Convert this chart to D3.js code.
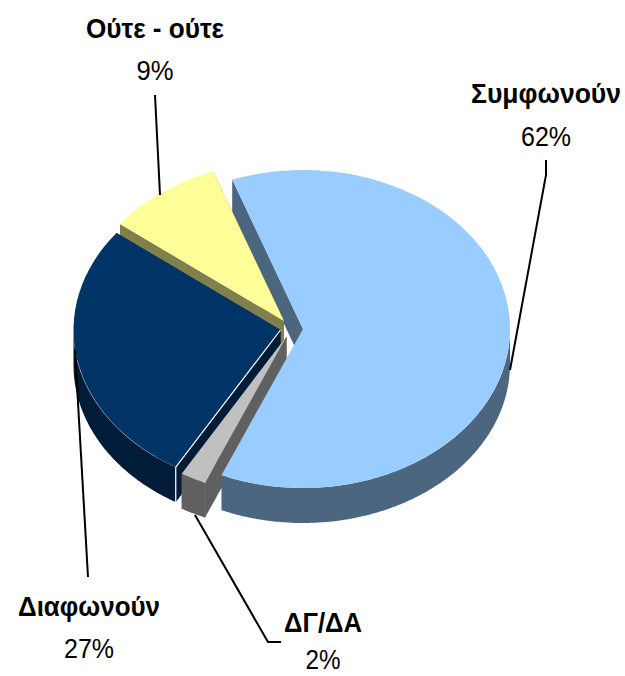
<!DOCTYPE html>
<html>
<head>
<meta charset="utf-8">
<script src="https://cdnjs.cloudflare.com/ajax/libs/d3/7.8.5/d3.min.js"></script>
<style>
  html, body { margin: 0; padding: 0; background: #fff; }
  svg { display: block; }
  text { font-family: "Liberation Sans", sans-serif; fill: #000; text-anchor: middle; }
  .name { font-size: 27px; font-weight: 700; }
  .pct { font-size: 28px; }
</style>
</head>
<body>
<div id="chart"></div>
<script>
const categories = ["Συμφωνούν", "ΔΓ/ΔΑ", "Διαφωνούν", "Ούτε - ούτε"];
const values = [62, 2, 27, 9];
const topColors = ["#99ccff", "#c0c0c0", "#003366", "#ffff99"];
const wallColors = ["#4d6680", "#606060", "#001c38", "#80804d"];

// layout, kept apart from the data
const width = 625, height = 676;
const rx = 207, ry = 159, depth = 35;
const sliceCenters = [[303, 329], [286.5, 336.5], [280.5, 330], [284, 321]];
const labelPos = [[546, 103, 146], [323, 632, 669], [89, 616, 658], [155, 38, 80]];
const nameWidths = [150, 78, 142, 138];
const pctWidths = [50, 35, 50, 37];
const leaders = [
  [[546, 160], [546, 175], [510, 370]],
  [[195, 515], [268, 642], [281, 642]],
  [[75, 350], [88, 577]],
  [[155, 95], [160, 195]]
];

const svg = d3.select("#chart").append("svg")
  .attr("width", width)
  .attr("height", height);

const startAngle = -20 * Math.PI / 180;
const pie = d3.pie().sort(null)
  .startAngle(startAngle)
  .endAngle(startAngle + 2 * Math.PI);
const slices = pie(values);

const arc = d3.arc().innerRadius(0).outerRadius(rx);
const line = d3.line();

const point = (a) => [rx * Math.sin(a), -ry * Math.cos(a)];

function rimPoints(i, a0, a1) {
  const c = sliceCenters[i];
  return d3.range(a0, a1, 0.01).concat([a1]).map(a => {
    const p = point(a);
    return [c[0] + p[0], c[1] + p[1]];
  });
}

function cutWall(g, d, i, angle) {
  const [px, py] = point(angle);
  const c = sliceCenters[i];
  g.append("path")
    .attr("d", line([
      [c[0], c[1]],
      [c[0] + px, c[1] + py],
      [c[0] + px, c[1] + py + depth],
      [c[0], c[1] + depth]
    ]) + "Z")
    .attr("fill", wallColors[i]);
}

function outerWall(g, d, i) {
  // only the part of the rim that faces the viewer
  const a0 = Math.max(d.startAngle, Math.PI / 2);
  const a1 = Math.min(d.endAngle, 3 * Math.PI / 2);
  if (a1 <= a0) return;
  const rim = rimPoints(i, a0, a1);
  const lower = rim.map(p => [p[0], p[1] + depth]).reverse();
  g.append("path")
    .attr("d", line(rim.concat(lower)) + "Z")
    .attr("fill", wallColors[i]);
}

function topFace(g, d, i) {
  const c = sliceCenters[i];
  g.append("path")
    .attr("d", arc(d))
    .attr("transform", `translate(${c[0]},${c[1]}) scale(1,${ry / rx})`)
    .attr("fill", topColors[i]);
}

const pieG = svg.append("g");

// painter's order: big slice's cut walls sit behind the rest, its top goes last
cutWall(pieG, slices[0], 0, slices[0].startAngle);

[3, 2, 1].forEach(i => {
  const d = slices[i];
  cutWall(pieG, d, i, d.endAngle);
  cutWall(pieG, d, i, d.startAngle);
  outerWall(pieG, d, i);
  topFace(pieG, d, i);
  if (i === 2) {
    // thin white seam on the navy slice's front edge
    const c = sliceCenters[2];
    const p = point(d.startAngle);
    pieG.append("path")
      .attr("d", line([
        [c[0], c[1]],
        [c[0] + p[0], c[1] + p[1]],
        [c[0] + p[0], c[1] + p[1] + depth]
      ]))
      .attr("fill", "none")
      .attr("stroke", "#fff")
      .attr("stroke-width", 1.2);
    // and a fainter one along part of its rim
    pieG.append("path")
      .attr("d", line(rimPoints(2, d.startAngle + 0.12, d.startAngle + 0.85)))
      .attr("fill", "none")
      .attr("stroke", "#fff")
      .attr("stroke-opacity", 0.45)
      .attr("stroke-width", 0.7);
  }
});

outerWall(pieG, slices[0], 0);
topFace(pieG, slices[0], 0);

// leader lines
svg.append("g").selectAll("path")
  .data(leaders)
  .join("path")
  .attr("d", d => line(d))
  .attr("fill", "none")
  .attr("stroke", "#000")
  .attr("stroke-width", 2);

// labels
const labels = svg.append("g").selectAll("g")
  .data(categories)
  .join("g");

labels.append("text")
  .attr("class", "name")
  .attr("x", (d, i) => labelPos[i][0])
  .attr("y", (d, i) => labelPos[i][1])
  .attr("textLength", (d, i) => nameWidths[i])
  .attr("lengthAdjust", "spacingAndGlyphs")
  .text(d => d);

labels.append("text")
  .attr("class", "pct")
  .attr("x", (d, i) => labelPos[i][0])
  .attr("y", (d, i) => labelPos[i][2])
  .attr("textLength", (d, i) => pctWidths[i])
  .attr("lengthAdjust", "spacingAndGlyphs")
  .text((d, i) => values[i] + "%");
</script>
</body>
</html>
